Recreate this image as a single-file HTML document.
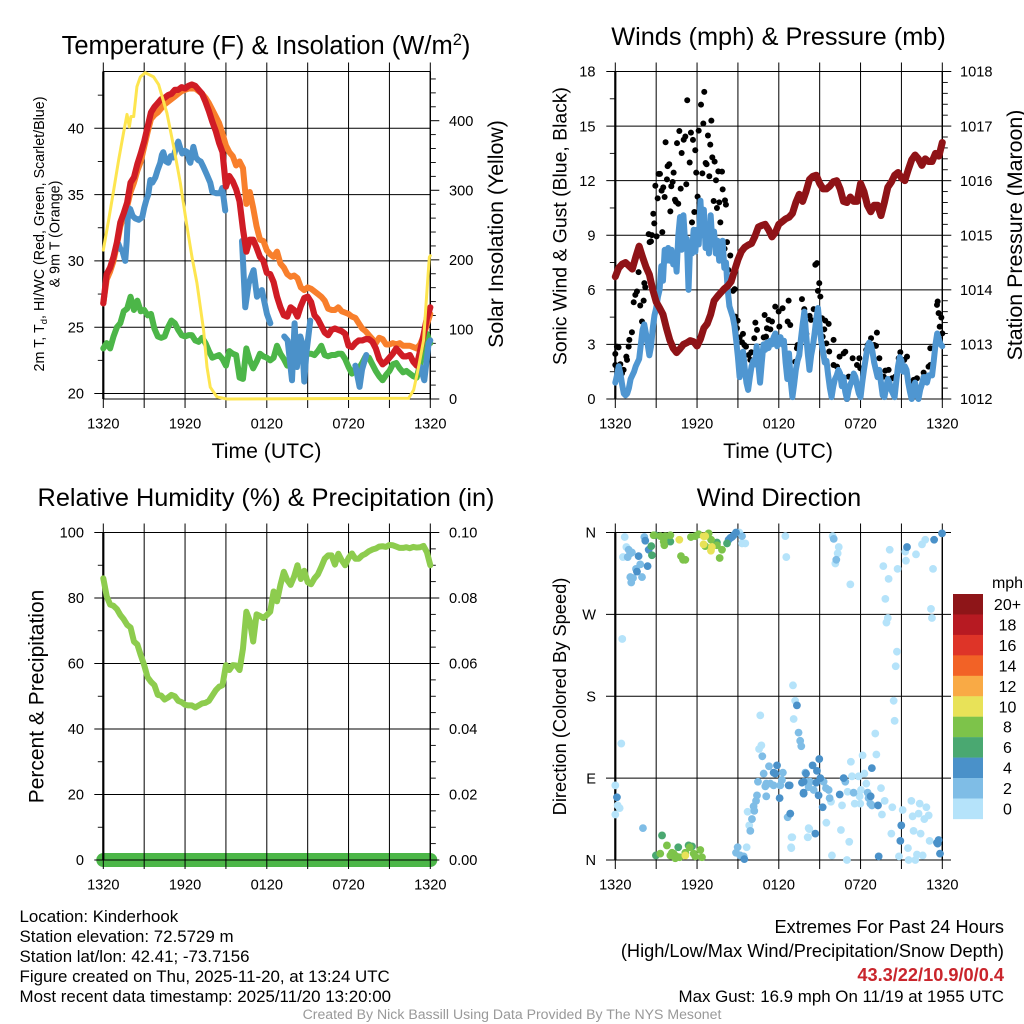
<!DOCTYPE html>
<html>
<head>
<meta charset="utf-8">
<title>Kinderhook Meteogram</title>
<style>
html,body{margin:0;padding:0;background:#fff}
svg{display:block}
text{font-family:"Liberation Sans",sans-serif;fill:#000}
</style>
</head>
<body>
<svg id="chart" xmlns="http://www.w3.org/2000/svg" width="1024" height="1024" viewBox="0 0 1024 1024">
<rect x="0" y="0" width="1024" height="1024" fill="#fff"/>
<g id="layer-temp"></g>
<g id="layer-wind"></g>
<g id="layer-rh"></g>
<g id="layer-dir"></g>
<g id="layer-legend"></g>

<text x="266" y="54" font-size="25.5" text-anchor="middle">Temperature (F) &amp; Insolation (W/m<tspan dy="-9" font-size="16.5">2</tspan><tspan dy="9">)</tspan></text>
<text x="778.5" y="45" font-size="25.3" text-anchor="middle">Winds (mph) &amp; Pressure (mb)</text>
<text x="266" y="506" font-size="25.3" text-anchor="middle">Relative Humidity (%) &amp; Precipitation (in)</text>
<text x="779" y="506" font-size="25.3" text-anchor="middle">Wind Direction</text>

<text x="266.5" y="458" font-size="21.2" text-anchor="middle">Time (UTC)</text>
<text x="778" y="458" font-size="21.2" text-anchor="middle">Time (UTC)</text>

<text transform="translate(44,234) rotate(-90)" font-size="14.3" text-anchor="middle">2m T, T<tspan dy="3" font-size="9.5">d</tspan><tspan dy="-3">, HI/WC (Red, Green, Scarlet/Blue)</tspan></text>
<text transform="translate(59.5,234) rotate(-90)" font-size="14.3" text-anchor="middle">&amp; 9m T (Orange)</text>
<text transform="translate(503,234) rotate(-90)" font-size="21.3" text-anchor="middle">Solar Insolation (Yellow)</text>
<text transform="translate(566.5,226) rotate(-90)" font-size="19.4" text-anchor="middle">Sonic Wind &amp; Gust (Blue, Black)</text>
<text transform="translate(1022,235) rotate(-90)" font-size="21.4" text-anchor="middle">Station Pressure (Maroon)</text>
<text transform="translate(43.5,696.5) rotate(-90)" font-size="21" text-anchor="middle">Percent &amp; Precipitation</text>
<text transform="translate(566,696.5) rotate(-90)" font-size="18.3" text-anchor="middle">Direction (Colored By Speed)</text>

<g font-size="16.9">
<text x="19.5" y="922">Location: Kinderhook</text>
<text x="19.5" y="942">Station elevation: 72.5729 m</text>
<text x="19.5" y="962">Station lat/lon: 42.41; -73.7156</text>
<text x="19.5" y="982">Figure created on Thu, 2025-11-20, at 13:24 UTC</text>
<text x="19.5" y="1002">Most recent data timestamp: 2025/11/20 13:20:00</text>
</g>
<g text-anchor="end">
<text x="1004" y="933" font-size="18.2">Extremes For Past 24 Hours</text>
<text x="1004" y="957" font-size="18.2">(High/Low/Max Wind/Precipitation/Snow Depth)</text>
<text x="1004" y="981" font-size="18.2" font-weight="bold" style="fill:#c9252c">43.3/22/10.9/0/0.4</text>
<text x="1004" y="1002" font-size="16.9">Max Gust: 16.9 mph On 11/19 at 1955 UTC</text>
</g>
<text x="512" y="1019" font-size="14.1" text-anchor="middle" style="fill:#999">Created By Nick Bassill Using Data Provided By The NYS Mesonet</text>
</svg>

<script>
// ---- shared axis data ----
const gridHours = [0,3,6,9,12,15,18,21,24];
const timeLabelHours = [0,6,12,18,24];
const timeLabels = ['1320','1920','0120','0720','1320'];

// ---- temperature panel (°F), 15-minute series ----
const tempStepHours = 0.25;
const temp2m = [26.8,29.0,29.5,30.3,31.4,32.9,33.6,34.4,35.9,36.3,37.3,38.1,39.0,40.1,41.2,41.6,41.9,42.2,42.3,42.5,42.6,42.9,42.9,43.1,43.0,43.2,43.3,43.2,42.9,42.6,42.0,41.3,40.5,39.8,38.9,38.2,35.6,36.4,36.0,35.4,34.5,32.4,30.7,31.6,31.6,31.0,30.3,30.0,29.1,29.0,28.4,27.3,26.5,25.9,25.8,26.5,26.3,25.8,26.6,27.2,27.3,26.9,25.9,25.6,25.1,24.6,24.4,24.8,24.9,24.8,24.7,24.5,23.6,23.5,23.8,24.0,24.0,24.1,24.1,23.9,23.4,22.6,22.2,22.4,22.7,23.0,23.4,23.1,22.8,22.8,22.9,22.4,22.1,23.2,24.4,25.7,26.5];
const temp9m = [26.8,28.6,29.2,30,31.2,32.6,33.4,34.1,35.2,35.9,36.8,37.5,38.6,39.7,40.7,41,41.2,41.5,41.8,42,42.2,42.4,42.6,42.8,42.9,43,43,43,42.8,42.6,42.3,41.9,41.4,40.9,40.4,39.6,38.7,38.2,37.9,37.2,37.5,37,34.3,35.2,34,32.6,31.6,31.5,30.8,30.5,30.3,30.7,29.8,29.5,29,28.8,28.9,28.7,28,27.8,28,27.9,27.7,27.5,27.3,27,26.4,26.3,26.3,26.5,26.2,26.1,26,25.8,25.7,25.3,24.9,24.7,24.4,24.1,23.8,24.2,24.1,23.7,23.7,23.8,23.7,23.8,23.6,23.6,23.6,23.5,23.4,23.7,24.3,25.2,26];
const dewPoint = [23.4,23.8,23.4,24.3,25,25.3,26.2,26.4,27.3,26.3,27,26.2,26.3,25.9,26,24.9,24.3,24.2,24.3,25,25.5,25.3,24.8,24.4,24.3,24.4,24.4,24,23.9,24.2,23.8,23.2,22.7,22.8,22.9,22.6,22.1,23.2,23,22.9,21.2,21.1,23.4,22.5,21.9,22.4,23,22.8,22.7,22.5,22.7,23.6,23,22.6,22.1,22.3,22.8,23,23.2,22.9,23,23,22.9,23.2,23.6,22.9,22.8,22.9,22.9,23,23,22.6,22,21.5,21.9,21.9,22.3,22.8,22.7,22.2,21.7,21.3,21,21.4,21.7,22.2,22.3,21.9,21.6,21.7,21.5,21.3,21.2,22.2,23.7,24.5,23.8];
const chillHours = [1.10,1.25,1.39,1.61,1.72,1.83,1.98,2.15,2.35,2.6,2.86,3.0,3.16,3.3,3.45,3.6,3.82,4.0,4.18,4.3,4.40,4.6,4.77,4.95,5.14,5.3,5.50,5.65,5.80,6.0,6.17,6.3,6.39,6.5,6.61,6.8,6.97,7.15,7.34,7.6,7.85,8.0,8.3,8.59,8.73,8.85,8.95,9.5,10.18,10.3,10.42,10.67,11.03,11.28,11.64,12.01,12.26,12.8,13.28,13.53,13.85,14.04,14.21,14.46,14.6,14.75,14.9,15.19,16,18.5,18.81,18.99,19.3,21,23.27,23.56,23.88,24];
const chillTemps = [31.3,30.9,30.8,30.0,31.5,34.0,33.9,33.4,33.2,33.1,33.3,34.0,34.6,35.0,36.1,35.9,36.3,36.9,37.4,38.0,38.2,37.5,37.4,37.9,37.8,38.4,39.0,38.5,38.1,38.3,38.2,37.6,37.4,38.0,38.6,37.8,37.6,37.5,37.1,36.5,35.9,35.2,35.1,35.1,35.5,34.6,33.8,null,31.5,29,26.5,28.3,29.3,27.3,27.8,26,25.3,null,24.3,24,21,25.3,22,24.3,23.8,20.9,23,25.5,null,22.1,20.5,21.8,22.9,null,22,21,23.8,24];
const insolationHours = [0,0.39,0.76,1.13,1.49,1.74,1.91,2.03,2.23,2.47,2.72,3.08,3.69,4.06,4.67,5.16,5.65,6.14,6.51,6.87,7.36,7.61,7.85,8.34,9.08,22.41,22.78,23.14,23.51,23.76,23.93,24];
const insolationValues = [214,257,300,344,383,409,391,406,406,449,463,469,463,452,411,363,311,248,204,167,99,46,17,3,0,1,13,46,85,157,204,206];
const tempTicks = [20,25,30,35,40];
const tempMinorTicks = [22.5,27.5,32.5,37.5,42.5];
const insolationTicks = [0,100,200,300,400];
const insolationMinorTicks = [20,40,60,80,120,140,160,180,220,240,260,280,320,340,360,380,420,440,460];

// ---- wind panel ----
const windStepHours = 0.125;
const sonicWind = [.9,1.3,1.8,1.4,.8,.3,.2,.3,.6,1.1,1.3,1.5,1.8,2.0,2.2,3.0,3.8,4.1,3.6,3.0,2.4,2.9,3.9,4.6,5.0,5.6,6.0,7.3,6.5,8.2,7.6,8.3,7.6,8.2,7.4,8.0,7.0,9.0,10.0,8.2,10.1,8.6,8.8,6.0,8.6,8.0,9.3,8.1,9.3,8.5,10.9,9.0,10.4,8.3,9.2,8.0,10.1,8.6,9.2,8.0,8.7,7.6,8.6,8.7,7.2,7.5,6.0,5.1,4.8,4.5,4.0,3.2,2.3,1.2,1.6,2.6,1.7,.9,.5,1.2,1.8,2.1,1.9,2.9,1.9,.9,2.0,3.0,2.7,3.1,2.8,3.2,3.0,3.4,3.6,2.9,3.3,3.4,3.0,3.2,2.0,1.1,2.5,1.0,.1,.8,1.6,2.1,2.4,3.3,4.1,4.8,3.6,2.5,1.6,2.4,2.9,3.6,4.4,5.0,4.0,3.1,2.6,2.0,2.1,1.3,.6,.1,.7,1.1,1.3,1.6,1.4,.7,1.2,.4,0,.5,.8,1.0,1.4,1.2,.7,.3,.1,.9,1.6,2.2,2.8,3.1,3.0,2.6,2.0,1.6,1.2,1.6,.9,.2,.1,.6,1.1,.9,.5,.3,.1,1.0,1.8,2.3,2.1,1.5,1.8,1.6,.9,.4,0,.6,.9,.3,0,.5,.8,1.2,1.2,.9,1.3,1.3,1.3,2.1,3.0,3.6,3.3,3.0,2.9];
const gustHours = [6.53,5.28,6.29,6.46,7.05,4.7,5.55,6.12,6.8,5.14,5.02,5.7,3.69,4.53,6.97,5.87,4.87,7.12,5.46,7.29,6.63,6.7,3.96,3.84,7.56,7.83,4.28,5.94,6.39,3.28,3.18,6.9,3.79,7.39,4.21,4.11,5.21,2.94,3.52,3.4,4.8,7.88,3.62,3.11,6.04,8.05,4.38,4.45,4.62,7.22,7.63,6.17,8.12,7.46,4.04,5.8,2.79,2.86,5.63,7.71,3.45,2.45,2.69,3.03,2.62,2.52,8.2,8.02,8.44,8.29,1.71,2.13,2.2,1.59,1.47,1.35,2.08,1.83,1.96,1.22,1.03,.98,.12,.24,0,.81,.86,0,.37,.61,.49,8.64,8.76,8.81,8.98,8.93,9.13,9.37,9.3,9.47,9.59,10.2,9.98,9.79,9.91,10.28,10.4,10.96,10.89,11.06,11.25,11.5,11.13,11.38,12.04,11.74,11.99,12.28,12.72,12.65,12.84,13.7,13.87,14.56,14.26,14.36,14.8,14.68,14.97,14.87,15.05,15.17,15.41,15.66,15.34,15.22,16.02,15.49,16.46,15.7,16.02,16.27,13.33,13.38,14.02,13.21,13.04,16.88,16.76,17.42,17.91,17.74,17.98,17.13,17,18.77,19.2,18.52,18.42,19.0,19.13,19.38,20.06,19.82,19.7,20.55,20.31,20.92,20.8,21.41,21.21,21.28,21.9,22.14,21.77,22.63,22.99,23.12,23.12,23.36,23.61,23.66,23.73,23.93,23.81,24];
const gustSpeeds = [16.88,16.42,16.18,15.14,15.3,14.73,14.64,14.75,14.48,14.43,14.25,14.24,14.11,14.06,13.98,13.67,13.52,13.28,13.0,13.05,12.97,12.9,12.9,12.8,12.51,12.5,12.44,12.44,12.4,12.37,12.37,12.24,12.07,12.02,11.93,11.69,11.8,11.72,11.63,11.45,11.56,11.52,11.1,11.03,11.12,10.92,10.95,10.84,10.73,10.88,10.81,10.77,10.68,10.5,10.31,10.28,10.18,9.65,9.71,9.71,9.17,9.06,9.01,8.94,8.66,8.62,8.62,8.26,7.89,7.1,6.97,6.37,6.15,5.91,5.72,5.32,5.41,5.14,4.26,3.67,3.25,2.88,2.88,2.84,2.48,2.33,2.15,1.87,1.91,1.6,1.41,5.94,6.04,4.53,4.31,3.89,3.39,3.58,3.12,2.97,2.88,3.34,2.57,2.42,2.15,4.2,3.8,4.62,3.39,3.43,4.35,4.26,3.89,3.83,3.98,5.08,4.81,4.99,5.41,4.26,4.07,5.49,4.94,4.94,4.57,4.35,7.47,7.38,6.37,5.94,5.63,4.44,4.31,4.13,3.83,3.43,3.25,3.06,2.33,2.61,1.87,1.78,2.79,2.97,3.58,2.05,1.5,2.6,2.51,2.24,2.24,1.87,1.69,1.23,0,3.34,3.65,2.97,2.7,2.97,2.92,2.24,1.6,1.56,1.23,1.23,1.14,2.57,2.24,2.33,2.15,1.69,1.05,1.14,.95,1.45,1.78,1.87,2.79,2.79,5.17,5.36,4.72,4.48,3.98,3.61];
const pressureStepHours = 0.25;
const stationPressure = [1014.24,1014.4,1014.47,1014.5,1014.44,1014.38,1014.6,1014.8,1014.6,1014.42,1014.28,1014.0,1013.78,1013.67,1013.55,1013.3,1013.08,1012.93,1012.85,1012.92,1013.0,1013.03,1013.07,1013.05,1012.97,1013.1,1013.3,1013.38,1013.55,1013.8,1013.88,1013.95,1014.02,1014.07,1014.15,1014.35,1014.55,1014.7,1014.78,1014.82,1014.85,1014.98,1015.15,1015.18,1015.2,1015.1,1014.97,1015.05,1015.2,1015.25,1015.3,1015.33,1015.4,1015.6,1015.75,1015.62,1015.8,1016.02,1016.08,1016.1,1015.95,1015.85,1015.85,1015.9,1015.98,1016.0,1015.85,1015.62,1015.6,1015.7,1015.62,1015.62,1015.95,1015.8,1015.55,1015.43,1015.55,1015.55,1015.36,1015.6,1015.88,1015.97,1016.1,1016.15,1016.05,1016.0,1016.2,1016.38,1016.47,1016.4,1016.28,1016.4,1016.35,1016.35,1016.5,1016.45,1016.7];
const windTicks = [0,3,6,9,12,15,18];
const windMinorTicks = [1.5,4.5,7.5,10.5,13.5,16.5];
const pressureTicks = [1012,1013,1014,1015,1016,1017,1018];
const pressureMinorTicks = [1012.2,1012.4,1012.6,1012.8,1013.2,1013.4,1013.6,1013.8,1014.2,1014.4,1014.6,1014.8,1015.2,1015.4,1015.6,1015.8,1016.2,1016.4,1016.6,1016.8,1017.2,1017.4,1017.6,1017.8];

// ---- humidity panel ----
const rhStepHours = 0.25;
const relativeHumidity = [86,80.5,78,77.6,76.6,74.8,73.5,71.8,71,66.7,65.8,62.5,59.5,55.8,54.4,53.4,50.4,50.2,49.0,49.6,50.4,50,48.6,48.2,47.4,47.2,47.2,46.6,47.2,47.8,48,48.6,50.2,51.8,52.9,53.4,59.5,58,59.5,59.4,58,64.5,75.8,73,66.7,75,74.5,73.9,74.8,75.8,82,79,84,88,85.5,84,86.5,90,85.8,88.3,84.8,84.2,86,87.2,89.5,92,93,93,90.2,93.5,91.5,90,92.2,93.6,92,92,93,93.5,94.3,94.8,95.1,95.7,95.8,95.6,96.2,96.1,95.7,95.3,95.3,95.5,95.2,95.6,95.4,95.5,95.9,94,90];
const precipHours = [0,24];
const precipValues = [0,0];
const rhTicks = [0,20,40,60,80,100];
const rhMinorTicks = [10,30,50,70,90];
const precipTicks = ['0.00','0.02','0.04','0.06','0.08','0.10'];
const precipMinorTicks = [.005,.01,.015,.025,.03,.035,.045,.05,.055,.065,.07,.075,.085,.09,.095];

// ---- wind direction scatter, grouped by speed class ----
const dirLabels = ['N','E','S','W','N'];
const dirTicks = [0,90,180,270,360];
const dirHours0 = [.69,.56,.81,.51,.44,0,.32,.17,0,9.1,9.3,9.54,9.64,10.64,10.72,10.55,9.71,9.83,12.48,12.55,13.04,13.2,13.09,12.94,12.9,14.12,14.19,15.95,16.4,16.32,16.15,17.25,20.14,21.28,22.07,22.51,22.75,21.33,19.67,20.72,20.06,23.32,19.82,23.17,23.24,20.0,19.9,20.67,20.58,20.43,20.5,19.08,19.16,17.29,18.15,18.28,17.86,17.37,18.42,19.5,19.77,20.33,19.57,17.05,18.03,17.93,17.57,17.98,16.64,21.09,21.73,22.34,22.83,23.0,22.68,22.26,21.82,15.49,14.24,14.14,16.56,17.17,20.26,21.89,22.41,21.48,23.07,12.99,12.92,15.9,17.0,20.82,21.53,22.02,22.14,22.56,15.83];
const dirDegs0 = [355,333,344,243,128,82,57,60,50,360,348,348,14,159,126,122,53,38,356,333,192,175,155,25,14,25,35,356,344,337,326,303,341,339,336,347,352,329,323,320,309,320,287,276,266,266,261,229,213,175,153,139,116,108,115,95,92,92,84,79,65,58,50,75,77,70,62,62,60,55,65,62,58,49,45,51,48,41,34,25,33,20,29,32,29,13,21,25,13,5,0,4,0,0,6,5,64];
const dirHours2 = [.98,1.1,.91,1.22,1.83,1.52,1.1,1.3,1.17,1.96,2.13,2.03,9.3,8.98,8.86,9.17,9.42,10.79,13.45,13.57,13.65,11.28,10.89,10.47,11.08,11.38,11.62,12.23,12.3,12.11,13.95,11.01,11.08,10.4,10.33,10.15,10.2,10.03,9.91,12.84,12.65,14.07,14.19,16.03,16.22,14.31,14.56,15.29,15.66,15.73,17.49,18.52,18.59,18.72,18.84,15.46,16.88];
const dirDegs2 = [341,337,333,338,325,320,311,310,305,311,355,35,356,14,8,5,4,114,140,131,125,103,95,86,84,84,82,88,96,82,96,81,70,71,65,59,54,45,32,51,47,86,80,353,330,86,77,86,77,68,74,74,68,62,60,79,86];
const dirHours4 = [2.2,1.71,2.37,1.59,2.45,.12,8.44,8.69,8.86,8.56,8.32,9.47,13.33,12.72,13.82,13.82,12.06,11.62,11.74,11.87,21.41,23.4,23.98,14.97,14.48,14.0,14.8,15.05,14.75,13.82,13.7,12.8,12.84,13.82,14.92,15.22,16.47,16.76,18.74,18.83,19.28,14.68,20.99,20.92,19.33,23.61,23.73,23.66,23.83];
const dirDegs4 = [351,334,323,317,341,69,354,357,360,355,352,1,170,82,74,86,68,96,95,104,344,352,359,111,104,95,98,90,85,73,85,82,51,73,71,58,72,90,70,101,60,29,38,21,4,19,22,18,7];
const dirHours6 = [2.64,2.69,2.94,4.04,7.46,8.2,3.43,2.98,4.62,5.38,5.63];
const dirDegs6 = [345,335,357,350,349,348,27,5,14,16,15];
const dirHours8 = [2.81,3.3,3.67,4.04,3.55,3.6,4.82,5.14,4.97,5.55,6.12,6.85,5.87,6.6,7.03,7.46,7.83,7.66,3.79,3.3,5.46,6.24,6.36,4.04,4.28,4.48,4.72,5.14,5.75,5.87,4.16,4.4];
const dirDegs8 = [357,356,356,357,350,346,334,330,330,355,358,359,356,345,352,346,341,332,16,7,14,11,3,5,7,4,3,8,7,4,8,2];
const dirHours10 = [4.7,6.48,6.6,6.48,7.09,7.02,5.14];
const dirDegs10 = [352,356,356,347,344,340,5];
const dirGroupSpeeds = [0,2,4,6,8,10];

// ---- legend ----
const legendLabels = ['20+','18','16','14','12','10','8','6','4','2','0'];
const legendColors = ['#8e1518','#b71a22','#de3428','#f26226','#f9aa45','#e8e258','#7dc34a','#4aa871','#4a91c9','#7fbde6','#b5e3fa'];

// ---- axis functions ----
const svgNS = 'http://www.w3.org/2000/svg';
function linear(d0,d1,r0,r1){ return v => r0 + (v-d0)*(r1-r0)/(d1-d0); }
const xLeft = linear(0,24,103.3,430.3);
const xRight = linear(0,24,615.3,942.3);
const yTemp = linear(20,40,393.5,128.3);
const yInsol = linear(0,470,399,72);
const yWind = linear(0,18,399,71.5);
const yPress = linear(1012,1018,399,71.5);
const yRH = linear(0,100,860,532.5);
const yPrecip = linear(0,0.1,860,532.5);
const yDir = linear(0,360,860,532.5);

function shape(parent,tag){ const e=document.createElementNS(svgNS,tag); parent.appendChild(e); return e; }

function hairline(parent,name,x1,y1,x2,y2,w){
  const l=shape(parent,'line');
  
  
  l.setAttribute('x1',x1); l.setAttribute('y1',y1); l.setAttribute('x2',x2); l.setAttribute('y2',y2);
  l.setAttribute('stroke','#000'); l.setAttribute('stroke-width',w||1);
  return l;
}
function label(parent,name,x,y,str,anchor,size){
  const t=shape(parent,'text');
  
  
  t.setAttribute('x',x); t.setAttribute('y',y);
  t.setAttribute('font-size',size||14.6);
  t.setAttribute('text-anchor',anchor);
  t.textContent=str;
  return t;
}
function seriesLine(parent,name,hours,values,xf,yf,color,width){
  let d='',pen=false;
  hours.forEach((h,i)=>{
    const v=values[i];
    if(v===null||v===undefined){pen=false;return;}
    d+=(pen?'L':'M')+xf(h).toFixed(2)+' '+yf(v).toFixed(2);
    pen=true;
  });
  const p=shape(parent,'path');
  
  
  p.setAttribute('d',d); p.setAttribute('fill','none');
  p.setAttribute('stroke',color); p.setAttribute('stroke-width',width);
  p.setAttribute('stroke-linejoin','round'); p.setAttribute('stroke-linecap','round');
  return p;
}
function stepHours(values,step){ return values.map((_,i)=>i*step); }

function frame(parent,x0,x1,yTop,yBot){
  gridHours.forEach(h=>{
    const x=x0+(h/24)*(x1-x0);
    hairline(parent,'time-gridline',x,yTop-9,x,yBot+9,1);
  });
  hairline(parent,'top-border',x0,yTop,x1,yTop,1);
  hairline(parent,'bottom-border',x0,yBot,x1,yBot,1);
  hairline(parent,'left-spine',x0,yTop,x0,yBot,2.2);
  hairline(parent,'right-spine',x1,yTop,x1,yBot,1.4);
  timeLabelHours.forEach((h,i)=>{
    const x=x0+(h/24)*(x1-x0);
    label(parent,'time-tick-label',x,yBot+29.5,timeLabels[i],'middle');
  });
}
function leftTicks(parent,name,ticks,yf,x0,x1,labelX,fmt){
  ticks.forEach((v,i)=>{
    hairline(parent,name+'-gridline',x0-9,yf(v),x1,yf(v),1);
    if(labelX) label(parent,name+'-tick-label',labelX,yf(v)+5.2,fmt?fmt[i]:String(v),'end');
  });
}
function rightTicks(parent,name,ticks,yf,x1,labelX,texts){
  ticks.forEach((v,i)=>{
    hairline(parent,name+'-tick',x1,yf(v),x1+9,yf(v),1);
    label(parent,name+'-tick-label',labelX,yf(v)+5.2,texts?texts[i]:String(v),'start');
  });
}
function minors(parent,name,ticks,yf,x,len){
  ticks.forEach(v=>{ hairline(parent,name+'-minor-tick',x,yf(v),x+len,yf(v),0.9); });
}

// ---- temperature panel ----
(function(){
  const g=document.getElementById('layer-temp');
  frame(g,103.3,430.3,71.5,399);
  leftTicks(g,'temperature',tempTicks,yTemp,103.3,430.3,84);
  minors(g,'temperature',tempMinorTicks,yTemp,103.3,-5.5);
  rightTicks(g,'insolation',insolationTicks,yInsol,430.3,449);
  minors(g,'insolation',insolationMinorTicks,yInsol,430.3,5.5);
  const t=stepHours(temp2m,tempStepHours);
  seriesLine(g,'temperature-9m-line',t,temp9m,xLeft,yTemp,'#f87f2c',6);
  seriesLine(g,'dewpoint-line',t,dewPoint,xLeft,yTemp,'#4cb648',6);
  seriesLine(g,'wind-chill-line',chillHours,chillTemps,xLeft,yTemp,'#4b91c9',6);
  seriesLine(g,'temperature-2m-line',t,temp2m,xLeft,yTemp,'#d01c25',6.2);
  seriesLine(g,'insolation-line',insolationHours,insolationValues,xLeft,yInsol,'#fde54f',3);
})();

// ---- wind panel ----
(function(){
  const g=document.getElementById('layer-wind');
  frame(g,615.3,942.3,71.5,399);
  leftTicks(g,'wind',windTicks,yWind,615.3,942.3,595.5);
  minors(g,'wind',windMinorTicks,yWind,615.3,-5.5);
  rightTicks(g,'pressure',pressureTicks,yPress,942.3,960);
  minors(g,'pressure',pressureMinorTicks,yPress,942.3,5.5);
  gustHours.forEach((h,i)=>{
    const c=shape(g,'circle');
    
    
    c.setAttribute('cx',xRight(h)); c.setAttribute('cy',yWind(gustSpeeds[i])); c.setAttribute('r',3); c.setAttribute('fill','#000');
  });
  seriesLine(g,'sonic-wind-line',stepHours(sonicWind,windStepHours),sonicWind,xRight,yWind,'#4f96d1',6);
  seriesLine(g,'pressure-line',stepHours(stationPressure,pressureStepHours),stationPressure,xRight,yPress,'#8f1317',7);
})();

// ---- humidity panel ----
(function(){
  const g=document.getElementById('layer-rh');
  seriesLine(g,'precipitation-line',precipHours,precipValues,xLeft,yPrecip,'#4cb648',14);
  frame(g,103.3,430.3,532.5,860);
  leftTicks(g,'humidity',rhTicks,yRH,103.3,430.3,84);
  minors(g,'humidity',rhMinorTicks,yRH,103.3,-5.5);
  const precipValuesAtTicks=precipTicks.map(Number);
  rightTicks(g,'precipitation',precipValuesAtTicks,yPrecip,430.3,449,precipTicks);
  minors(g,'precipitation',precipMinorTicks,yPrecip,430.3,5.5);
  seriesLine(g,'humidity-line',stepHours(relativeHumidity,rhStepHours),relativeHumidity,xLeft,yRH,'#8dcc4e',6);
})();

// ---- direction panel ----
(function(){
  const g=document.getElementById('layer-dir');
  frame(g,615.3,942.3,532.5,860);
  dirTicks.forEach((d,i)=>{
    hairline(g,'direction-gridline',606,yDir(d),951,yDir(d),1);
    label(g,'direction-tick-label',596,yDir(d)+5.2,dirLabels[i],'end');
  });
  const groups=[[dirHours0,dirDegs0],[dirHours2,dirDegs2],[dirHours4,dirDegs4],[dirHours6,dirDegs6],[dirHours8,dirDegs8],[dirHours10,dirDegs10]];
  groups.forEach((grp,k)=>{
    const color=legendColors[legendColors.length-1-Math.round(dirGroupSpeeds[k]/2)];
    grp[0].forEach((h,i)=>{
      const c=shape(g,'circle');
      
      
      c.setAttribute('cx',xRight(h)); c.setAttribute('cy',yDir(grp[1][i])); c.setAttribute('r',3.9); c.setAttribute('fill',color);
    });
  });
})();

// ---- legend ----
(function(){
  const g=document.getElementById('layer-legend');
  label(g,'legend-units',1007.5,588,'mph','middle',16);
  const top=594, h=20.45;
  legendLabels.forEach((s,i)=>{
    const r=shape(g,'rect');
    
    
    r.setAttribute('x',953); r.setAttribute('y',top+i*h); r.setAttribute('width',30); r.setAttribute('height',h+0.2); r.setAttribute('fill',legendColors[i]);
    label(g,'legend-label',1007.5,top+i*h+16,s,'middle',16);
  });
})();
</script>
</body>
</html>
